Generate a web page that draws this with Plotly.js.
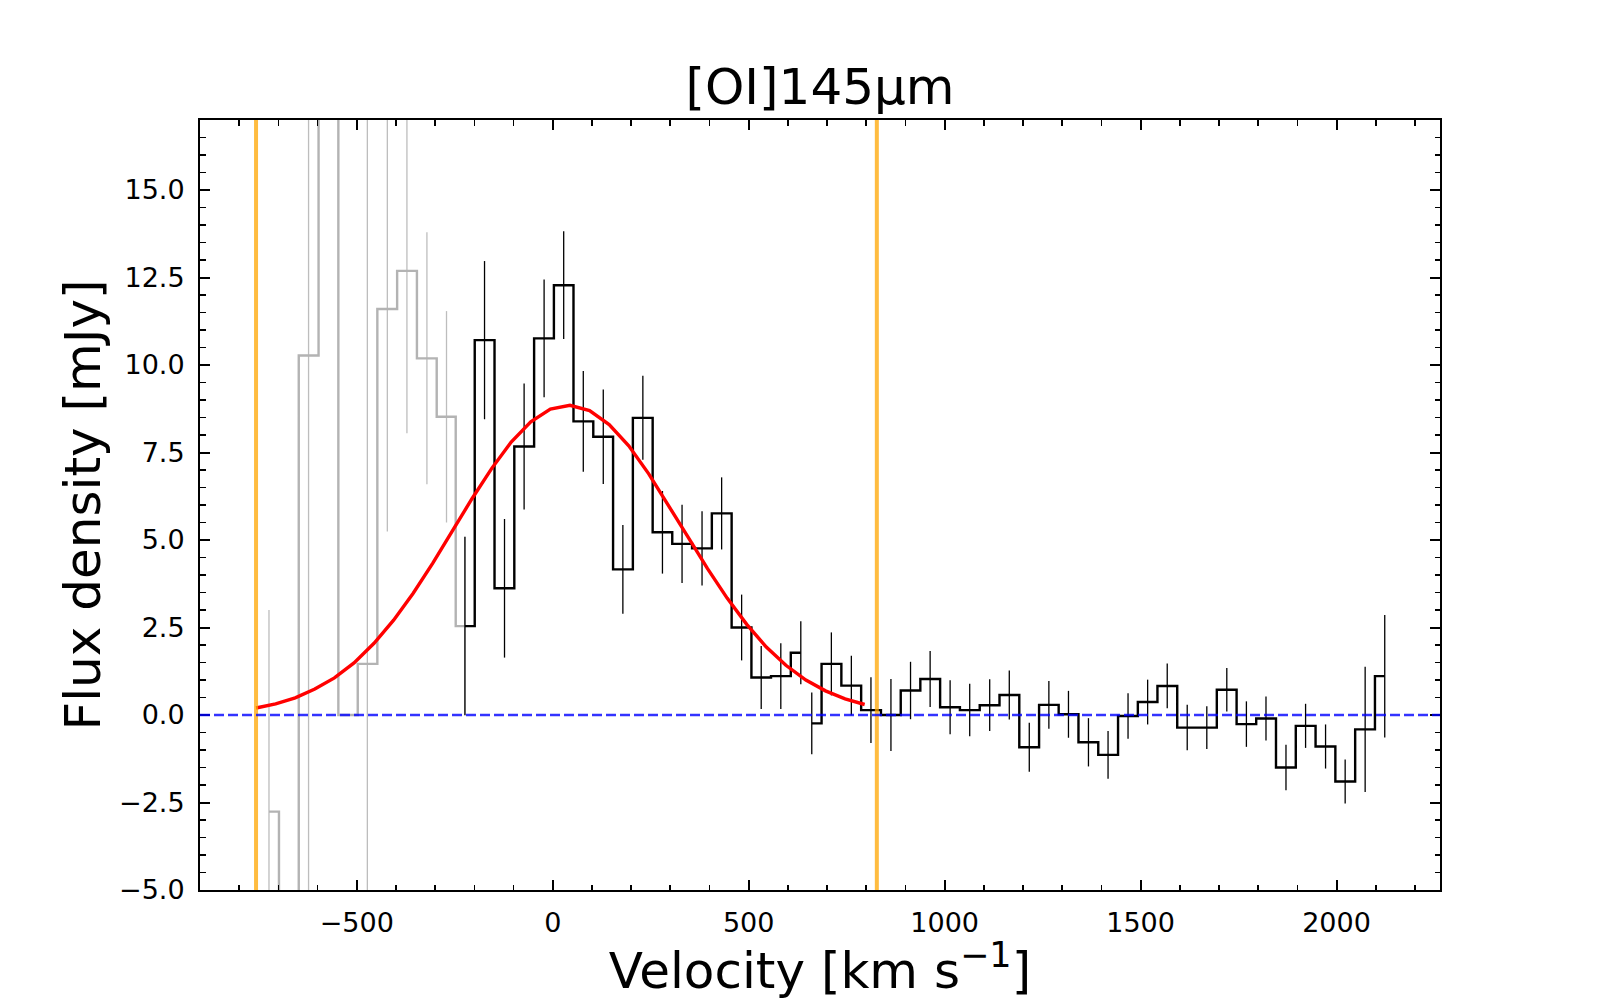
<!DOCTYPE html>
<html>
<head>
<meta charset="utf-8">
<script src="https://cdn.plot.ly/plotly-3.0.1.min.js"></script>
<style>
  html, body { margin: 0; padding: 0; background: #fff; }
  #chart { width: 1600px; height: 1000px; }
</style>
</head>
<body>
<div id="chart"></div>
<script>
// channels outside the clean part of the spectrum (drawn grey)
const grayVel  = [-724, -673, -623, -572, -522, -473, -422, -372, -321, -271, -224];
const grayFlux = [-2.76, -12.0, 10.27, 25.0, 0.0, 1.46, 11.60, 12.69, 10.19, 8.52, 2.54];
const grayErr  = [5.76, 5.0, 17.0, 6.0, 0.0, 17.0, 6.36, 4.64, 3.60, 3.02, 2.55];

// spectrum, first window
const vel1  = [-224, -174, -123, -73, -22, 28, 78, 129, 179, 230, 280, 330, 381, 431, 482, 532, 582, 633];
const flux1 = [2.54, 10.71, 3.62, 7.67, 10.76, 12.28, 8.39, 7.95, 4.16, 8.49, 5.22, 4.89, 4.76, 5.76, 2.50, 1.07, 1.11, 1.78];
const err1  = [2.55, 2.26, 1.98, 1.80, 1.68, 1.54, 1.44, 1.35, 1.27, 1.20, 1.18, 1.12, 1.06, 1.03, 0.94, 0.90, 0.94, 0.90];

// spectrum, second window
const vel2  = [661, 711, 762, 812, 863, 913, 963, 1014, 1064, 1115, 1165, 1216, 1266, 1316, 1367,
               1417, 1468, 1518, 1568, 1619, 1669, 1720, 1770, 1820, 1871, 1921, 1972, 2022, 2073, 2123];
const flux2 = [-0.24, 1.46, 0.84, 0.14, 0.00, 0.70, 1.03, 0.22, 0.14, 0.28, 0.57, -0.92, 0.29, 0.02, -0.78,
               -1.14, -0.03, 0.37, 0.83, -0.36, -0.36, 0.72, -0.26, -0.10, -1.50, -0.31, -0.90, -1.90, -0.41, 1.11];
const err2  = [0.88, 0.90, 0.85, 0.94, 1.03, 0.82, 0.80, 0.77, 0.75, 0.74, 0.70, 0.70, 0.68, 0.67, 0.69,
               0.68, 0.65, 0.64, 0.64, 0.65, 0.61, 0.62, 0.65, 0.63, 0.65, 0.63, 0.63, 0.63, 1.79, 1.75];

// gaussian fit
const modelVel  = [-757, -707, -657, -607, -557, -507, -456, -406, -356, -306, -256, -206, -156, -106, -56, -6,
                   44, 94, 144, 194, 245, 295, 345, 395, 445, 495, 545, 595, 646, 696, 746, 796];
const modelFlux = [0.20, 0.32, 0.49, 0.74, 1.06, 1.49, 2.05, 2.71, 3.48, 4.34, 5.26, 6.18, 7.04, 7.80, 8.38, 8.74,
                   8.85, 8.70, 8.30, 7.69, 6.89, 6.01, 5.09, 4.18, 3.34, 2.59, 1.94, 1.42, 1.00, 0.69, 0.46, 0.30];

const fitRange = [-757, 827];
const baseline = 0;

const font = 'DejaVu Sans, sans-serif';

function spectrum(x, y, err, lineColor, barColor, lw) {
    return {
        x: x, y: y,
        type: 'scatter',
        mode: 'lines',
        line: {shape: 'hvh', color: lineColor, width: lw},
        error_y: {type: 'data', array: err, symmetric: true, color: barColor, thickness: 1.3, width: 0},
        hoverinfo: 'x+y',
        showlegend: false
    };
}

const data = [
    spectrum(grayVel, grayFlux, grayErr, '#b3b3b3', '#bdbdbd', 2.4),
    spectrum(vel1, flux1, err1, '#000000', '#000000', 2.4),
    spectrum(vel2, flux2, err2, '#000000', '#000000', 2.4),
    {
        x: modelVel, y: modelFlux,
        type: 'scatter', mode: 'lines',
        line: {color: '#ff0000', width: 3.4},
        showlegend: false
    }
];

const shapes = fitRange.map(v => ({
    type: 'line', xref: 'x', yref: 'paper',
    x0: v, x1: v, y0: 0, y1: 1,
    line: {color: 'rgba(255,165,0,0.75)', width: 4},
    layer: 'above'
}));
shapes.push({
    type: 'line', xref: 'paper', yref: 'y',
    x0: 0, x1: 1, y0: baseline, y1: baseline,
    line: {color: 'rgba(0,0,255,0.8)', width: 2.6, dash: '10px,4px'},
    layer: 'above'
});

const axisCommon = {
    showline: true,
    linecolor: '#000',
    linewidth: 2,
    mirror: 'allticks',
    ticks: 'inside',
    ticklen: 10,
    tickwidth: 2,
    tickcolor: '#000',
    showgrid: false,
    zeroline: false,
    tickfont: {family: font, size: 27, color: '#000'},
    ticklabelstandoff: 8
};

const layout = {
    width: 1600,
    height: 1000,
    paper_bgcolor: '#fff',
    plot_bgcolor: '#fff',
    font: {family: font, color: '#000'},
    margin: {l: 200, r: 160, t: 120, b: 110, pad: 0},
    title: {
        text: '[OI]145μm',
        font: {family: font, size: 50, color: '#000'},
        xref: 'paper', x: 0.5, xanchor: 'center',
        yref: 'container', y: 0.896, yanchor: 'bottom'
    },
    xaxis: Object.assign({}, axisCommon, {
        range: [-900, 2264],
        tick0: 0,
        dtick: 500,
        minor: {ticks: 'inside', ticklen: 5.5, tickwidth: 1.6, tickcolor: '#000', dtick: 100, tick0: 0, showgrid: false},
        title: {text: 'Velocity [km s<sup>−1</sup>]', font: {family: font, size: 50, color: '#000'}, standoff: 12}
    }),
    yaxis: Object.assign({}, axisCommon, {
        range: [-5, 17],
        tick0: 0,
        dtick: 2.5,
        tickformat: '.1f',
        minor: {ticks: 'inside', ticklen: 5.5, tickwidth: 1.6, tickcolor: '#000', dtick: 0.5, tick0: 0, showgrid: false},
        title: {text: 'Flux density [mJy]', font: {family: font, size: 50, color: '#000'}, standoff: 3}
    }),
    shapes: shapes
};

Plotly.newPlot('chart', data, layout, {displayModeBar: false, staticPlot: true});
</script>
</body>
</html>
